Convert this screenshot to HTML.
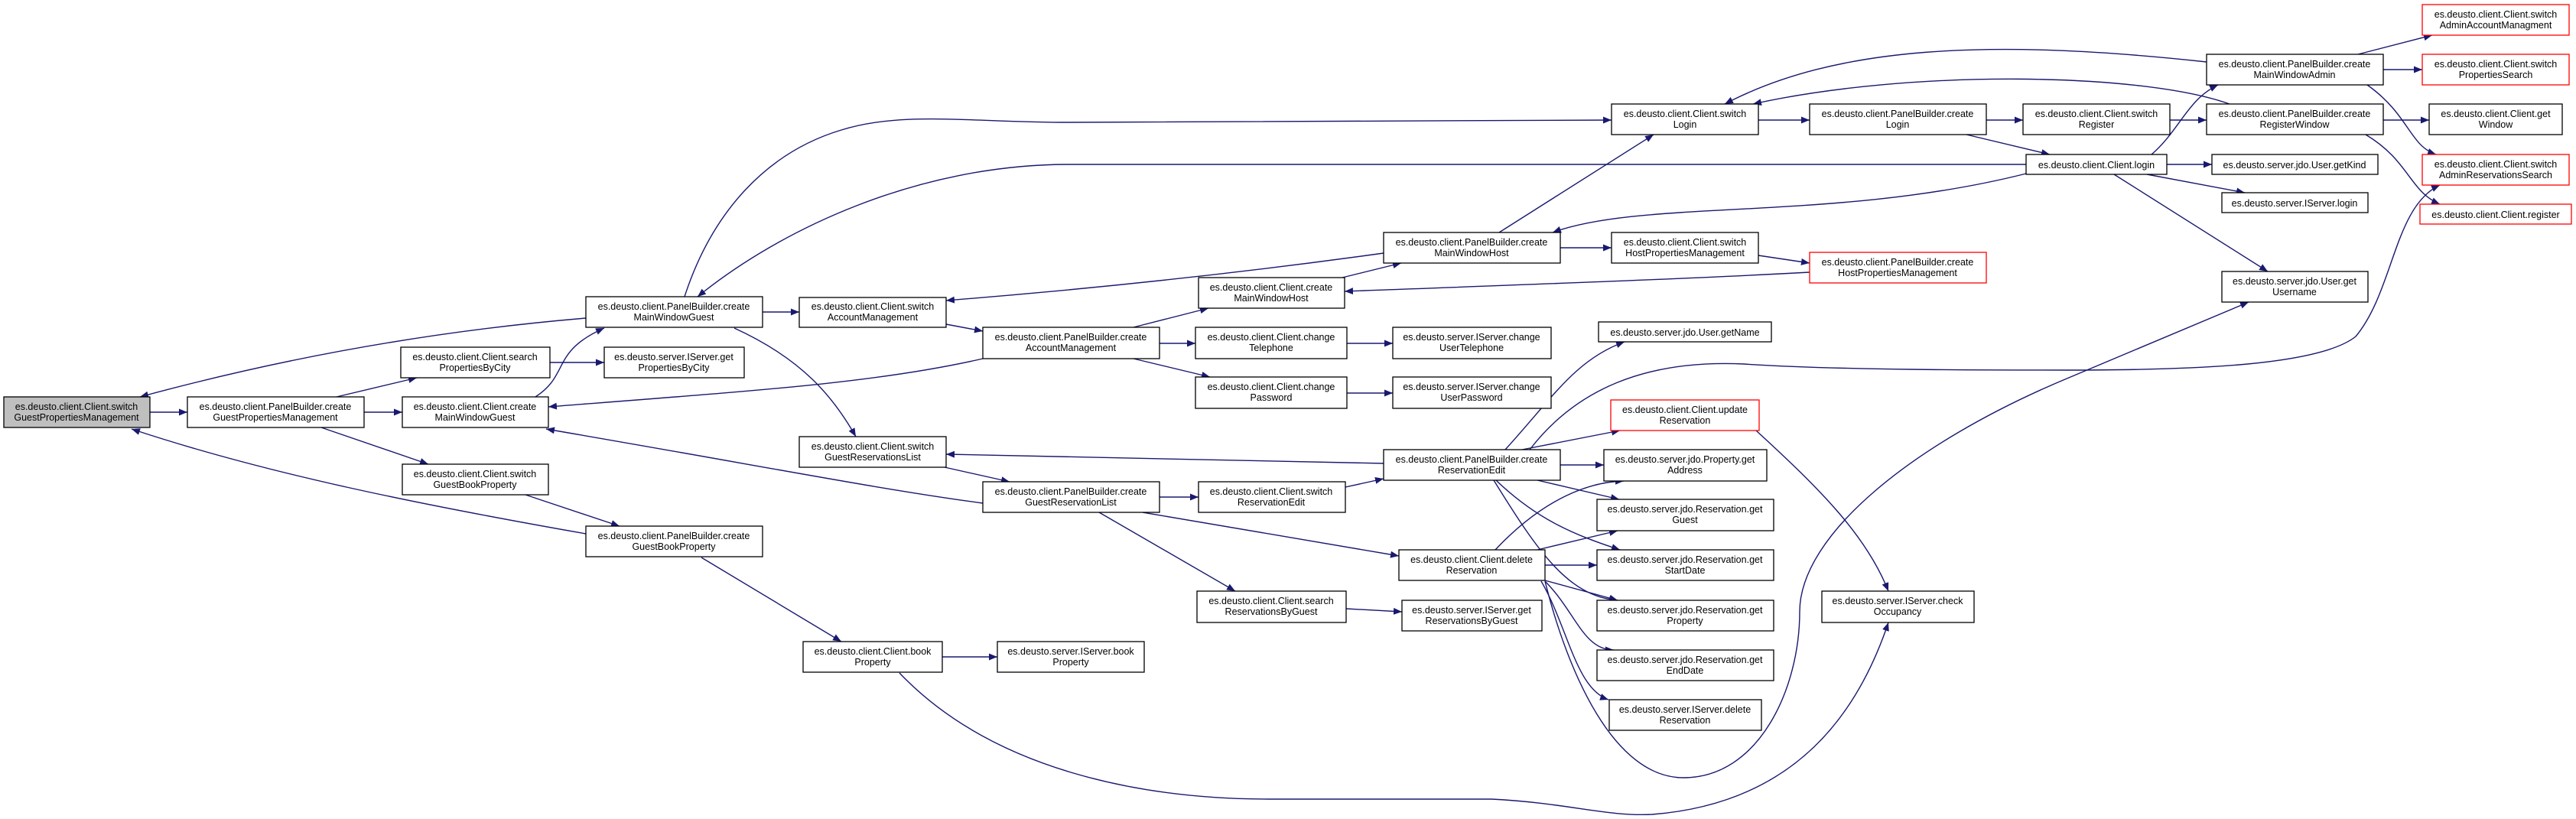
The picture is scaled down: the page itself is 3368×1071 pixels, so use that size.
<!DOCTYPE html>
<html><head><meta charset="utf-8"><style>
html,body{margin:0;padding:0;background:#fff;}
svg{display:block;}
text{font-family:"Liberation Sans",Arial,sans-serif;font-size:12.5px;fill:#000;text-anchor:middle;}
.n{fill:#fff;stroke:#000;stroke-width:1.3;}
.g{fill:#bfbfbf;stroke:#000;stroke-width:1.3;}
.r{fill:#fff;stroke:#ff0000;stroke-width:1.3;}
.e{fill:none;stroke:#191970;stroke-width:1.4;marker-end:url(#a);}
</style></head><body>
<svg width="3368" height="1071" viewBox="0 0 3368 1071" xmlns="http://www.w3.org/2000/svg">
<defs><marker id="a" markerUnits="userSpaceOnUse" markerWidth="12" markerHeight="9" refX="11" refY="4.5" orient="auto"><path d="M0,0 L11,4.5 L0,9 z" fill="#191970"/></marker></defs>
<g>
<path class="e" d="M196,539 L245,539"/>
<path class="e" d="M766,416 C600,430 400,460 183,519"/>
<path class="e" d="M766,698 C550,660 350,620 172,561"/>
<path class="e" d="M440,519 L545,494"/>
<path class="e" d="M476,539 L526,539"/>
<path class="e" d="M420,559 L560,607"/>
<path class="e" d="M719,474 L790,474"/>
<path class="e" d="M700,519 C745,490 720,460 790,429"/>
<path class="e" d="M1285,469 C1150,500 1000,510 717,532"/>
<path class="e" d="M1285,658 C1150,640 1000,610 714,561"/>
<path class="e" d="M687,647 L810,688"/>
<path class="e" d="M917,729 L1100,839"/>
<path class="e" d="M1232,859 L1304,859"/>
<path class="e" d="M1176,880 C1300,1010 1500,1045 1659,1045 L1950,1045 C2050,1050 2100,1068 2160,1065 C2350,1050 2430,930 2469,814"/>
<path class="e" d="M997,408 L1045,408"/>
<path class="e" d="M960,429 C1050,470 1090,520 1119,571"/>
<path class="e" d="M895,388 C930,280 1000,200 1100,170 C1180,145 1270,160 1397,160 L2107,157"/>
<path class="e" d="M2649,215 L1397,215 C1200,215 1020,300 912,388"/>
<path class="e" d="M1809,331 C1600,360 1400,380 1237,393"/>
<path class="e" d="M1237,424 L1285,433"/>
<path class="e" d="M1482,428 L1580,403"/>
<path class="e" d="M1516,449 L1563,449"/>
<path class="e" d="M1482,469 L1582,493"/>
<path class="e" d="M1761,449 L1821,449"/>
<path class="e" d="M1761,514 L1821,514"/>
<path class="e" d="M1755,363 L1832,344"/>
<path class="e" d="M2366,356 C2200,365 2000,372 1758,381"/>
<path class="e" d="M2040,324 L2107,324"/>
<path class="e" d="M2299,334 L2366,344"/>
<path class="e" d="M1960,304 L2162,176"/>
<path class="e" d="M2649,227 C2400,290 2150,260 2030,304"/>
<path class="e" d="M2299,157 L2366,157"/>
<path class="e" d="M2597,157 L2645,157"/>
<path class="e" d="M2571,176 L2680,202"/>
<path class="e" d="M2837,157 L2885,157"/>
<path class="e" d="M2813,202 C2850,170 2860,130 2900,111"/>
<path class="e" d="M2885,81 C2600,50 2400,60 2255,136"/>
<path class="e" d="M2915,136 C2800,95 2500,90 2292,136"/>
<path class="e" d="M3083,71 L3180,46"/>
<path class="e" d="M3116,91 L3167,91"/>
<path class="e" d="M3095,111 C3150,150 3150,190 3185,202"/>
<path class="e" d="M3116,157 L3176,157"/>
<path class="e" d="M3093,176 C3150,210 3150,250 3190,267"/>
<path class="e" d="M2833,215 L2892,215"/>
<path class="e" d="M2807,228 L2935,252"/>
<path class="e" d="M2764,228 L2965,355"/>
<path class="e" d="M2000,588 C2060,510 2150,470 2280,476 C2400,484 2600,484 2700,484 C2850,484 3030,480 3080,440 C3130,380 3130,270 3190,242"/>
<path class="e" d="M1809,606 L1237,594"/>
<path class="e" d="M2020,760 C2050,880 2110,1017 2201,1017 C2300,1017 2353,900 2353,800 C2353,700 2500,580 2700,496 L2940,395"/>
<path class="e" d="M2296,563 C2380,640 2440,700 2469,773"/>
<path class="e" d="M1759,637 L1809,626"/>
<path class="e" d="M1516,650 L1567,650"/>
<path class="e" d="M1235,611 L1320,630"/>
<path class="e" d="M1494,670 L1829,727"/>
<path class="e" d="M1437,670 L1615,773"/>
<path class="e" d="M1760,796 L1833,800"/>
<path class="e" d="M1968,588 C2030,520 2060,470 2124,447"/>
<path class="e" d="M1990,588 L2118,563"/>
<path class="e" d="M2040,608 L2097,608"/>
<path class="e" d="M2010,628 L2117,653"/>
<path class="e" d="M1956,628 C2010,680 2060,700 2118,719"/>
<path class="e" d="M1953,628 C2010,720 2050,780 2115,785"/>
<path class="e" d="M1955,719 C2020,650 2080,630 2123,629"/>
<path class="e" d="M2010,719 L2115,694"/>
<path class="e" d="M2020,739 L2088,739"/>
<path class="e" d="M2020,759 L2115,785"/>
<path class="e" d="M2020,760 C2060,800 2070,850 2110,850"/>
<path class="e" d="M2015,760 C2050,820 2060,900 2103,915"/>
</g>
<g>
<rect class="g" x="5" y="519" width="191" height="40"/><text x="100" y="536">es.deusto.client.Client.switch</text><text x="100" y="550">GuestPropertiesManagement</text>
<rect class="n" x="245" y="519" width="231" height="40"/><text x="360" y="536">es.deusto.client.PanelBuilder.create</text><text x="360" y="550">GuestPropertiesManagement</text>
<rect class="n" x="524" y="454" width="195" height="40"/><text x="621" y="471">es.deusto.client.Client.search</text><text x="621" y="485">PropertiesByCity</text>
<rect class="n" x="790" y="454" width="183" height="40"/><text x="881" y="471">es.deusto.server.IServer.get</text><text x="881" y="485">PropertiesByCity</text>
<rect class="n" x="526" y="519" width="191" height="40"/><text x="621" y="536">es.deusto.client.Client.create</text><text x="621" y="550">MainWindowGuest</text>
<rect class="n" x="766" y="388" width="231" height="40"/><text x="881" y="405">es.deusto.client.PanelBuilder.create</text><text x="881" y="419">MainWindowGuest</text>
<rect class="n" x="526" y="607" width="191" height="40"/><text x="621" y="624">es.deusto.client.Client.switch</text><text x="621" y="638">GuestBookProperty</text>
<rect class="n" x="766" y="688" width="231" height="40"/><text x="881" y="705">es.deusto.client.PanelBuilder.create</text><text x="881" y="719">GuestBookProperty</text>
<rect class="n" x="1050" y="839" width="182" height="40"/><text x="1141" y="856">es.deusto.client.Client.book</text><text x="1141" y="870">Property</text>
<rect class="n" x="1304" y="839" width="192" height="40"/><text x="1400" y="856">es.deusto.server.IServer.book</text><text x="1400" y="870">Property</text>
<rect class="n" x="1045" y="389" width="192" height="39"/><text x="1141" y="405">es.deusto.client.Client.switch</text><text x="1141" y="419">AccountManagement</text>
<rect class="n" x="1285" y="428" width="231" height="41"/><text x="1400" y="445">es.deusto.client.PanelBuilder.create</text><text x="1400" y="459">AccountManagement</text>
<rect class="n" x="1567" y="363" width="191" height="40"/><text x="1662" y="380">es.deusto.client.Client.create</text><text x="1662" y="394">MainWindowHost</text>
<rect class="n" x="1563" y="428" width="198" height="41"/><text x="1662" y="445">es.deusto.client.Client.change</text><text x="1662" y="459">Telephone</text>
<rect class="n" x="1563" y="493" width="198" height="41"/><text x="1662" y="510">es.deusto.client.Client.change</text><text x="1662" y="524">Password</text>
<rect class="n" x="1821" y="428" width="207" height="41"/><text x="1924" y="445">es.deusto.server.IServer.change</text><text x="1924" y="459">UserTelephone</text>
<rect class="n" x="1821" y="493" width="207" height="41"/><text x="1924" y="510">es.deusto.server.IServer.change</text><text x="1924" y="524">UserPassword</text>
<rect class="n" x="1809" y="304" width="231" height="40"/><text x="1924" y="321">es.deusto.client.PanelBuilder.create</text><text x="1924" y="335">MainWindowHost</text>
<rect class="n" x="2107" y="304" width="192" height="40"/><text x="2203" y="321">es.deusto.client.Client.switch</text><text x="2203" y="335">HostPropertiesManagement</text>
<rect class="r" x="2366" y="330" width="231" height="40"/><text x="2481" y="347">es.deusto.client.PanelBuilder.create</text><text x="2481" y="361">HostPropertiesManagement</text>
<rect class="n" x="2107" y="136" width="192" height="40"/><text x="2203" y="153">es.deusto.client.Client.switch</text><text x="2203" y="167">Login</text>
<rect class="n" x="2366" y="136" width="231" height="40"/><text x="2481" y="153">es.deusto.client.PanelBuilder.create</text><text x="2481" y="167">Login</text>
<rect class="n" x="2645" y="136" width="192" height="40"/><text x="2741" y="153">es.deusto.client.Client.switch</text><text x="2741" y="167">Register</text>
<rect class="n" x="2885" y="136" width="231" height="40"/><text x="3000" y="153">es.deusto.client.PanelBuilder.create</text><text x="3000" y="167">RegisterWindow</text>
<rect class="n" x="3176" y="136" width="174" height="40"/><text x="3263" y="153">es.deusto.client.Client.get</text><text x="3263" y="167">Window</text>
<rect class="n" x="2885" y="71" width="231" height="40"/><text x="3000" y="88">es.deusto.client.PanelBuilder.create</text><text x="3000" y="102">MainWindowAdmin</text>
<rect class="r" x="3167" y="6" width="192" height="40"/><text x="3263" y="23">es.deusto.client.Client.switch</text><text x="3263" y="37">AdminAccountManagment</text>
<rect class="r" x="3167" y="71" width="192" height="40"/><text x="3263" y="88">es.deusto.client.Client.switch</text><text x="3263" y="102">PropertiesSearch</text>
<rect class="n" x="2649" y="202" width="184" height="26"/><text x="2741" y="220">es.deusto.client.Client.login</text>
<rect class="n" x="2892" y="202" width="217" height="26"/><text x="3000" y="220">es.deusto.server.jdo.User.getKind</text>
<rect class="n" x="2905" y="252" width="191" height="26"/><text x="3000" y="270">es.deusto.server.IServer.login</text>
<rect class="r" x="3167" y="202" width="192" height="40"/><text x="3263" y="219">es.deusto.client.Client.switch</text><text x="3263" y="233">AdminReservationsSearch</text>
<rect class="r" x="3164" y="267" width="198" height="26"/><text x="3263" y="285">es.deusto.client.Client.register</text>
<rect class="n" x="2905" y="355" width="191" height="40"/><text x="3000" y="372">es.deusto.server.jdo.User.get</text><text x="3000" y="386">Username</text>
<rect class="n" x="2090" y="421" width="226" height="26"/><text x="2203" y="439">es.deusto.server.jdo.User.getName</text>
<rect class="n" x="1045" y="571" width="192" height="40"/><text x="1141" y="588">es.deusto.client.Client.switch</text><text x="1141" y="602">GuestReservationsList</text>
<rect class="n" x="1285" y="630" width="231" height="40"/><text x="1400" y="647">es.deusto.client.PanelBuilder.create</text><text x="1400" y="661">GuestReservationList</text>
<rect class="n" x="1567" y="630" width="192" height="40"/><text x="1662" y="647">es.deusto.client.Client.switch</text><text x="1662" y="661">ReservationEdit</text>
<rect class="n" x="1809" y="588" width="231" height="40"/><text x="1924" y="605">es.deusto.client.PanelBuilder.create</text><text x="1924" y="619">ReservationEdit</text>
<rect class="r" x="2106" y="523" width="194" height="40"/><text x="2203" y="540">es.deusto.client.Client.update</text><text x="2203" y="554">Reservation</text>
<rect class="n" x="2097" y="588" width="213" height="41"/><text x="2203" y="605">es.deusto.server.jdo.Property.get</text><text x="2203" y="619">Address</text>
<rect class="n" x="2088" y="653" width="231" height="41"/><text x="2203" y="670">es.deusto.server.jdo.Reservation.get</text><text x="2203" y="684">Guest</text>
<rect class="n" x="1829" y="719" width="191" height="40"/><text x="1924" y="736">es.deusto.client.Client.delete</text><text x="1924" y="750">Reservation</text>
<rect class="n" x="2088" y="719" width="231" height="40"/><text x="2203" y="736">es.deusto.server.jdo.Reservation.get</text><text x="2203" y="750">StartDate</text>
<rect class="n" x="1565" y="773" width="195" height="41"/><text x="1662" y="790">es.deusto.client.Client.search</text><text x="1662" y="804">ReservationsByGuest</text>
<rect class="n" x="1833" y="785" width="183" height="40"/><text x="1924" y="802">es.deusto.server.IServer.get</text><text x="1924" y="816">ReservationsByGuest</text>
<rect class="n" x="2088" y="785" width="231" height="40"/><text x="2203" y="802">es.deusto.server.jdo.Reservation.get</text><text x="2203" y="816">Property</text>
<rect class="n" x="2088" y="850" width="231" height="40"/><text x="2203" y="867">es.deusto.server.jdo.Reservation.get</text><text x="2203" y="881">EndDate</text>
<rect class="n" x="2104" y="915" width="199" height="40"/><text x="2203" y="932">es.deusto.server.IServer.delete</text><text x="2203" y="946">Reservation</text>
<rect class="n" x="2382" y="773" width="199" height="41"/><text x="2481" y="790">es.deusto.server.IServer.check</text><text x="2481" y="804">Occupancy</text>
</g>
</svg>
</body></html>
